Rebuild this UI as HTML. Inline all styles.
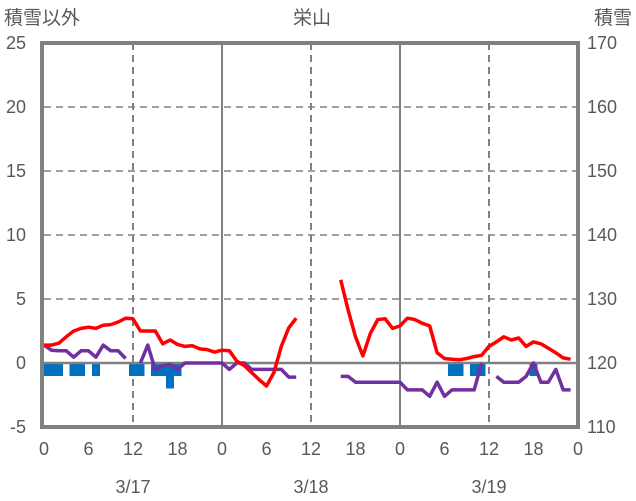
<!DOCTYPE html>
<html><head><meta charset="utf-8"><style>
body{margin:0;background:#fff;}
svg{display:block;font-family:"Liberation Sans","Noto Sans CJK JP",sans-serif;}
</style></head><body>
<svg id="chart" width="636" height="501" viewBox="0 0 636 501"></svg>
<script>
const hourTicks=["0","6","12","18","0","6","12","18","0","6","12","18","0"];
const dateLabels=["3/17","3/18","3/19"];
const leftTicks=[-5,0,5,10,15,20,25];
const rightTicks=[110,120,130,140,150,160,170];
const redValues=[1.4,1.4,1.55,2.05,2.5,2.7,2.8,2.7,2.95,3.0,3.2,3.5,3.45,2.5,2.5,2.5,1.5,1.8,1.45,1.3,1.35,1.1,1.05,0.85,1.0,0.95,0.15,-0.2,-0.75,-1.3,-1.8,-0.75,1.3,2.75,3.5,null,null,null,null,null,6.5,4.15,2.05,0.55,2.3,3.4,3.45,2.7,2.9,3.5,3.4,3.1,2.9,0.8,0.35,0.3,0.25,0.35,0.5,0.6,1.3,1.65,2.05,1.8,1.95,1.3,1.65,1.5,1.15,0.8,0.4,0.3];
const snowDepth=[122.8,122,121.9,121.9,120.9,121.9,121.9,120.9,122.8,121.9,121.9,120.7,null,120,122.8,118.9,119.6,119.8,119,120,120,120,120,120,120,119,120,120,119,119,119,119,119,117.8,117.8,null,null,null,null,null,117.9,117.9,117,117,117,117,117,117,117,115.8,115.8,115.8,114.8,117,114.8,115.8,115.8,115.8,115.8,120,null,117.9,117,117,117,117.9,120,117,117,119,115.8,115.8];
const precipHours=[0,1,2,4,5,7,12,13,15,16,17,18,55,56,58,59,66];
const precipValues=[-1,-1,-1,-1,-1,-1,-1,-1,-1,-1,-2,-1,-1,-1,-1,-1,-1];
const NS="http://www.w3.org/2000/svg";
const svg=document.getElementById('chart');
const X0=44,X1=578,YT=43,YB=427;
const xs=h=>X0+h*(X1-X0)/72;
const yl=v=>YB-(v+5)*(YB-YT)/30;
const yr=v=>YB-(v-110)*(YB-YT)/60;
function mk(t,a,p){const e=document.createElementNS(NS,t);for(const k in a)e.setAttribute(k,a[k]);(p||svg).appendChild(e);return e;}
for(const v of [5,10,15,20]){const g=mk('line',{x1:X0,x2:X1,y1:yl(v),y2:yl(v),stroke:'#808080','stroke-width':1.5,'stroke-dasharray':'7,5'});

}
for(let i=1;i<6;i++){const h=i*12;const solid=i%2==0;const g=mk('line',{x1:xs(h),x2:xs(h),y1:YT,y2:YB,stroke:'#808080','stroke-width':2,'stroke-dasharray':solid?'':'7,5'});

}
const bw=(X1-X0)/72;
precipHours.forEach((h,i)=>{const v=precipValues[i];const x=Math.max(X0,xs(h)-bw/2-0.3);const w=xs(h)+bw/2+0.3-x;
const r=mk('rect',{x:x,y:yl(0),width:w,height:yl(v)-yl(0),fill:'#0070C0','shape-rendering':'crispEdges'});

});
const z=mk('line',{x1:X0,x2:X1,y1:yl(0),y2:yl(0),stroke:'#808080','stroke-width':2.5});


function series(vals,yf,color,name){let d='';let pen=false;vals.forEach((v,h)=>{if(v===null){pen=false;return;}d+=(pen?'L':'M')+xs(h).toFixed(1)+' '+yf(v).toFixed(1)+' ';pen=true;});
const p=mk('path',{d:d,fill:'none',stroke:color,'stroke-width':3.5,'stroke-linejoin':'round'});

}
series(snowDepth,yr,'#7030A0','snow-depth-line');
series(redValues,yl,'#FF0000','temperature-line');
const f=mk('rect',{x:X0-2,y:YT,width:X1-X0+2,height:YB-YT,fill:'none',stroke:'#808080','stroke-width':4});


function txt(s,x,y,anchor,name,size){const t=mk('text',{x:x,y:y,'text-anchor':anchor,'font-size':size||18,fill:'#595959'});t.textContent=s;

return t;}
leftTicks.forEach(v=>txt(String(v),26,yl(v)+6,'end','left-tick-label'));
rightTicks.forEach(v=>txt(String(v),587,yr(v)+6,'start','right-tick-label'));
hourTicks.forEach((s,i)=>txt(s,xs(i*6),455,'middle','x-tick-label'));
dateLabels.forEach((s,i)=>txt(s,xs(12+i*24),493,'middle','date-label'));
txt('積雪以外',4,24,'start','left-axis-title',19);
txt('栄山',312,24,'middle','chart-title',19);
txt('積雪',632,24,'end','right-axis-title',19);
</script>
</body></html>
